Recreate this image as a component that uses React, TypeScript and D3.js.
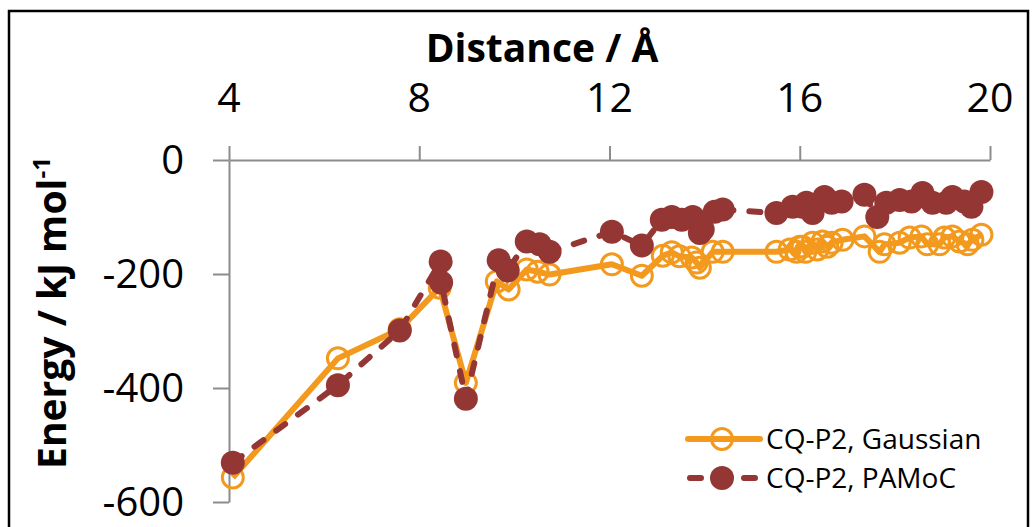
import React, { useEffect, useRef } from "react";
import * as d3 from "d3";

const width = 1033;
const height = 527;

// distance (Å), energy (kJ/mol)
const gaussDist = [
  4.08, 6.29, 7.59, 8.43, 8.98, 9.63, 9.88, 10.26, 10.49, 10.74, 12.05, 12.68,
  13.12, 13.31, 13.47, 13.73, 13.83, 13.9, 14.17, 14.38, 15.51, 15.79, 15.93,
  16.0, 16.06, 16.12, 16.27, 16.37, 16.48, 16.58, 16.67, 16.9, 17.36, 17.68,
  17.78, 18.1, 18.31, 18.56, 18.68, 18.94, 19.04, 19.21, 19.36, 19.53, 19.63,
  19.82,
];
const gaussEnergy = [
  -557, -348, -297, -224, -391, -213, -227, -192, -196, -201, -183, -203, -168,
  -162, -169, -171, -180, -189, -161, -161, -161, -157, -161, -152, -152, -161,
  -145, -157, -143, -152, -145, -140, -134, -161, -148, -145, -136, -134, -148,
  -148, -136, -134, -143, -148, -140, -131,
];

const pamocDist = [
  4.08, 6.29, 7.59, 8.45, 8.46, 8.98, 9.67, 9.86, 10.26, 10.53, 10.74, 12.05,
  12.68, 13.1, 13.31, 13.52, 13.75, 13.9, 13.96, 14.21, 14.38, 15.51, 15.85,
  16.06, 16.14, 16.27, 16.52, 16.67, 16.88, 17.36, 17.63, 17.82, 18.1, 18.35,
  18.58, 18.79, 19.08, 19.21, 19.46, 19.61, 19.82,
];
const pamocEnergy = [
  -531, -395, -299, -178, -215, -419, -176, -194, -143, -148, -161, -126, -150,
  -105, -100, -105, -100, -128, -122, -91, -87, -93, -82, -82, -75, -93, -65,
  -75, -73, -61, -100, -75, -70, -73, -58, -75, -75, -65, -73, -82, -56,
];

const xTicks = [4, 8, 12, 16, 20];
const yTicks = [0, -200, -400, -600];

const orange = "#F39A1E";
const darkRed = "#943634";
const font = "'Open Sans', sans-serif";

const x = d3.scaleLinear().domain([4, 20]).range([229, 990]);
const y = d3.scaleLinear().domain([0, -600]).range([160, 502]);

const gauss = gaussDist.map((d, i) => [d, gaussEnergy[i]] as [number, number]);
const pamoc = pamocDist.map((d, i) => [d, pamocEnergy[i]] as [number, number]);

const line = d3
  .line<[number, number]>()
  .x((d) => x(d[0]))
  .y((d) => y(d[1]));

export default function App() {
  const xAxisRef = useRef<SVGGElement>(null);
  const yAxisRef = useRef<SVGGElement>(null);

  useEffect(() => {
    const xa = d3.select(xAxisRef.current!);
    xa.call(
      d3.axisTop(x).tickValues(xTicks).tickSize(14).tickSizeOuter(0).tickFormat((d) => `${d}`)
    );
    xa.selectAll("text").remove();
    const ya = d3.select(yAxisRef.current!);
    ya.call(
      d3.axisLeft(y).tickValues(yTicks).tickSize(16).tickSizeOuter(0).tickFormat((d) => `${d}`)
    );
    ya.selectAll("text").remove();
    [xa, ya].forEach((g) => {
      g.selectAll("path,line").attr("stroke", "#8c8c8c").attr("stroke-width", 2);
    });
  }, []);

  return (
    <svg
      width={width}
      height={height}
      style={{ position: "absolute", left: 0, top: 0, background: "#fff" }}
    >
      <rect x={9} y={11} width={1019} height={600} fill="#fff" stroke="#000" strokeWidth={2.5} />

      <g ref={xAxisRef} transform={`translate(0, ${y(0)})`} />
      <g ref={yAxisRef} transform={`translate(${x(4)}, 0)`} />

      {xTicks.map((t) => (
        <text key={t} x={x(t)} y={112} textAnchor="middle" fontFamily={font} fontSize={41} fill="#000">
          {t}
        </text>
      ))}
      {yTicks.map((t) => (
        <text key={t} x={184} y={y(t) + 14} textAnchor="end" fontFamily={font} fontSize={40} fill="#000">
          {t}
        </text>
      ))}

      <text x={542} y={62} textAnchor="middle" fontFamily={font} fontWeight="bold" fontSize={39} fill="#000">
        Distance / Å
      </text>
      <text
        transform={`translate(66, 313) rotate(-90)`}
        textAnchor="middle"
        fontFamily={font}
        fontWeight="bold"
        fontSize={39}
        fill="#000"
      >
        Energy / kJ mol<tspan fontSize={24} dy={-16}>-1</tspan>
      </text>

      {/* Gaussian */}
      <path d={line(gauss) ?? ""} fill="none" stroke={orange} strokeWidth={6} strokeLinejoin="round" />
      {gauss.map((d, i) => (
        <circle key={i} cx={x(d[0])} cy={y(d[1])} r={10.5} fill="none" stroke={orange} strokeWidth={3} />
      ))}

      {/* PAMoC */}
      <path
        d={line(pamoc) ?? ""}
        fill="none"
        stroke={darkRed}
        strokeWidth={6}
        strokeDasharray="11,16"
        strokeLinecap="round"
        strokeLinejoin="round"
      />
      {pamoc.map((d, i) => (
        <circle key={i} cx={x(d[0])} cy={y(d[1])} r={12} fill={darkRed} />
      ))}

      {/* legend */}
      <line x1={688} x2={760} y1={439} y2={439} stroke={orange} strokeWidth={6} strokeLinecap="round" />
      <circle cx={722} cy={439} r={10.5} fill="none" stroke={orange} strokeWidth={3} />
      <text x={766} y={449} fontFamily={font} fontSize={28} fill="#000">
        CQ-P2, Gaussian
      </text>
      <line
        x1={690}
        x2={758}
        y1={478}
        y2={478}
        stroke={darkRed}
        strokeWidth={6}
        strokeDasharray="11,16"
        strokeLinecap="round"
      />
      <circle cx={722} cy={478} r={12} fill={darkRed} />
      <text x={766} y={488} fontFamily={font} fontSize={28} fill="#000">
        CQ-P2, PAMoC
      </text>
    </svg>
  );
}
